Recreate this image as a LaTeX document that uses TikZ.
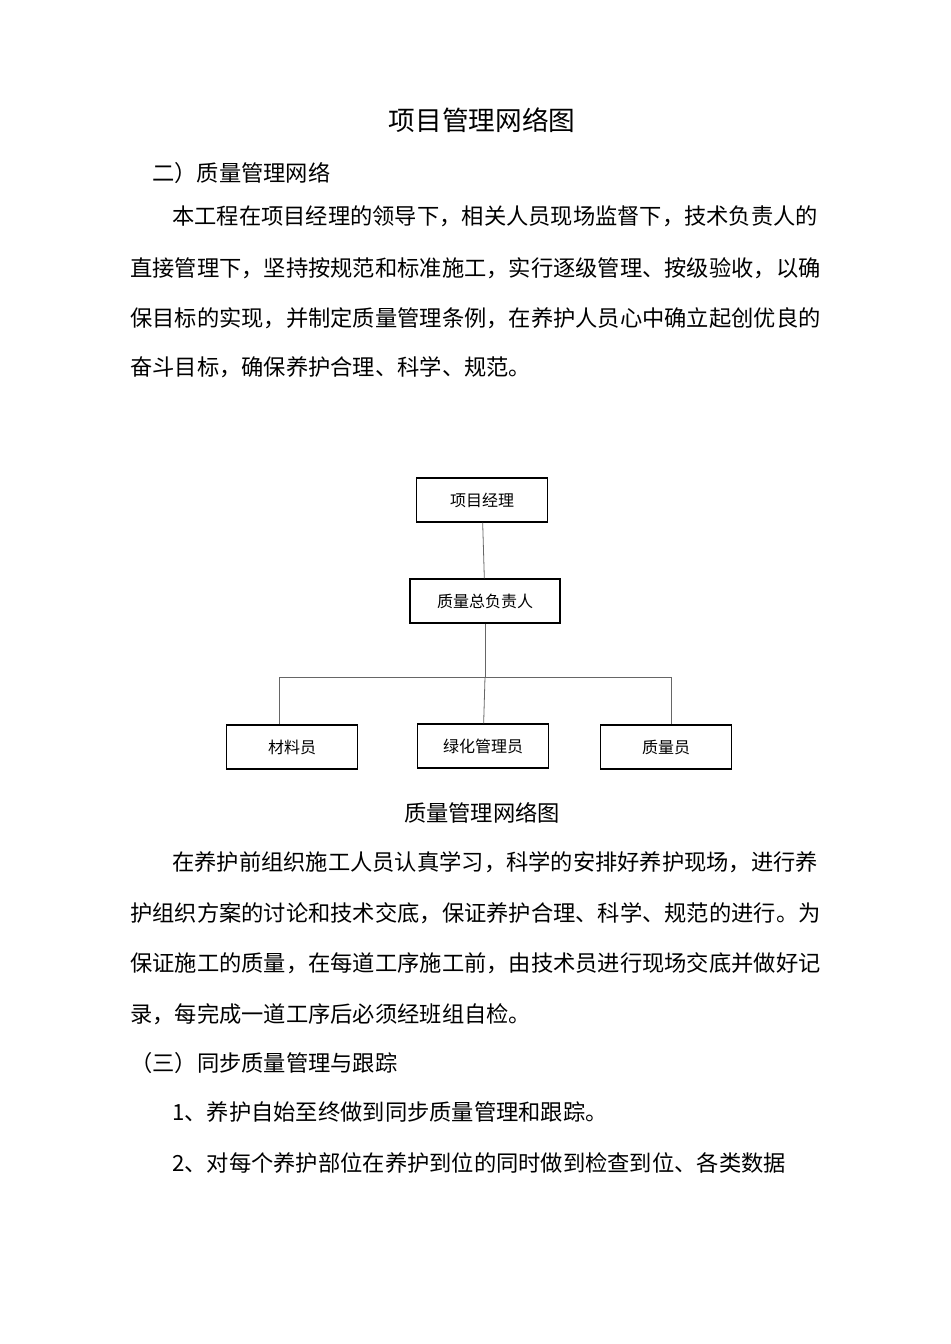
\documentclass[tikz,border=0pt]{standalone}
\usepackage{fontspec}
\setmainfont{Noto Sans CJK SC}
\begin{document}
\begin{tikzpicture}[x=0.75pt,y=-0.75pt,
  box/.style={draw,line width=1pt,minimum width=131*0.75pt,minimum height=44*0.75pt,inner sep=0pt,font=\fontsize{12}{14}\selectfont},
  body/.style={anchor=west,inner sep=0pt,font=\fontsize{16.7}{20}\selectfont},
  conn/.style={draw,line width=0.6pt,gray!80!black}]
\useasboundingbox (0,0) rectangle (950,1344);
\node[font=\fontsize{20}{24}\selectfont] (title) at (482,120) {项目管理网络图};
\node[body] (h2) at (152,173) {二）质量管理网络};
\node[body] (p1) at (172,216) {本工程在项目经理的领导下，相关人员现场监督下，技术负责人的};
\node[body] (p2) at (130,268) {直接管理下，坚持按规范和标准施工，实行逐级管理、按级验收，以确};
\node[body] (p3) at (130,318) {保目标的实现，并制定质量管理条例，在养护人员心中确立起创优良的};
\node[body] (p4) at (130,367) {奋斗目标，确保养护合理、科学、规范。};
\node[box] (pm) at (482,500) {项目经理};
\node[box,minimum width=150*0.75pt] (qm) at (485,601) {质量总负责人};
\node[box] (a) at (292,747) {材料员};
\node[box] (b) at (483,746) {绿化管理员};
\node[box] (c) at (666,747) {质量员};
\coordinate (j) at (485,677);
\coordinate (jl) at (279,677);
\coordinate (jr) at (671,677);
\draw[conn] (pm) -- (qm);
\draw[conn] (qm) -- (j);
\draw[conn] (jl) -- (jr);
\draw[conn] (jl) -- (jl |- a.north);
\draw[conn] (jr) -- (jr |- c.north);
\draw[conn] (j) -- (b);
\node[body,anchor=center] (cap) at (482,813) {质量管理网络图};
\node[body] (q1) at (172,862) {在养护前组织施工人员认真学习，科学的安排好养护现场，进行养};
\node[body] (q2) at (130,913) {护组织方案的讨论和技术交底，保证养护合理、科学、规范的进行。为};
\node[body] (q3) at (130,963) {保证施工的质量，在每道工序施工前，由技术员进行现场交底并做好记};
\node[body] (q4) at (130,1014) {录，每完成一道工序后必须经班组自检。};
\node[body] (h3) at (130,1063) {（三）同步质量管理与跟踪};
\node[body] (r1) at (172,1112) {1、养护自始至终做到同步质量管理和跟踪。};
\node[body] (r2) at (172,1163) {2、对每个养护部位在养护到位的同时做到检查到位、各类数据};
\end{tikzpicture}
\end{document}
